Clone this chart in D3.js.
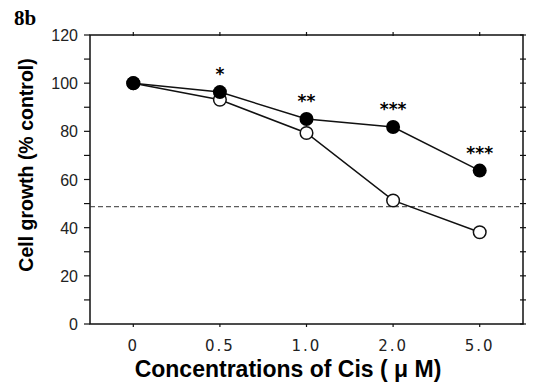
<!DOCTYPE html>
<html>
<head>
<meta charset="utf-8">
<script src="https://cdn.jsdelivr.net/npm/d3@7"></script>
<style>
  body { margin: 0; background: #fff; }
  svg { display: block; }
</style>
</head>
<body>
<div class="chart"></div>
<script>
// data
const concentrations = ['0', '0.5', '1.0', '2.0', '5.0'];
const filledValues = [100, 96.3, 85.1, 81.8, 63.7];
const openValues = [100, 93.1, 79.3, 51.3, 38.1];
const stars = ['', '*', '**', '***', '***'];
const yTicks = [0, 20, 40, 60, 80, 100, 120];
const refLine = 48.7;

const width = 534;
const height = 386;
const margin = { top: 35, right: 11, bottom: 62, left: 90 };

const svg = d3.select('.chart')
    .append('svg')
    .attr('width', width)
    .attr('height', height);

const x = d3.scalePoint()
    .domain(concentrations)
    .range([margin.left, width - margin.right])
    .padding(0.5);

const y = d3.scaleLinear()
    .domain([0, 120])
    .range([height - margin.bottom, margin.top]);

const x0 = margin.left, x1 = width - margin.right;
const y0 = y(0), y1 = y(120);

// frame
svg.append('rect')
    .attr('x', x0).attr('y', y1)
    .attr('width', x1 - x0).attr('height', y0 - y1)
    .style('fill', 'none')
    .style('stroke', '#111')
    .style('stroke-width', 1.5);

// left / right ticks every 10
const minor = d3.range(0, 121, 10);
svg.selectAll('.ltick')
    .data(minor)
    .enter().append('line')
    .attr('x1', x0 - 6).attr('x2', x0)
    .attr('y1', d => y(d)).attr('y2', d => y(d))
    .style('stroke', '#111').style('stroke-width', 1.2);

svg.selectAll('.rtick')
    .data(minor)
    .enter().append('line')
    .attr('x1', x1 - 3).attr('x2', x1 + 3)
    .attr('y1', d => y(d)).attr('y2', d => y(d))
    .style('stroke', '#111').style('stroke-width', 1.2);

svg.selectAll('.ylab')
    .data(yTicks)
    .enter().append('text')
    .attr('x', x0 - 12)
    .attr('y', d => y(d) + 6)
    .attr('text-anchor', 'end')
    .style('font-family', '"Liberation Sans Narrow", "Liberation Sans", Arial, sans-serif')
    .style('font-size', '16px')
    .style('fill', '#222')
    .text(d => d);

// top & bottom ticks at categories
svg.selectAll('.ttick')
    .data(concentrations)
    .enter().append('line')
    .attr('x1', d => x(d)).attr('x2', d => x(d))
    .attr('y1', y1 - 3).attr('y2', y1 + 1)
    .style('stroke', '#111').style('stroke-width', 1.2);

svg.selectAll('.btick')
    .data(concentrations)
    .enter().append('line')
    .attr('x1', d => x(d)).attr('x2', d => x(d))
    .attr('y1', y0).attr('y2', y0 + 3)
    .style('stroke', '#111').style('stroke-width', 1.2);

svg.selectAll('.xlab')
    .data(concentrations)
    .enter().append('text')
    .attr('x', d => x(d))
    .attr('y', y0 + 27)
    .attr('text-anchor', 'middle')
    .style('font-family', '"DejaVu Sans", sans-serif')
    .style('font-size', '15px')
    .style('letter-spacing', '2px')
    .style('fill', '#222')
    .text(d => d);

// dashed reference line
svg.append('line')
    .attr('x1', x0).attr('x2', x1)
    .attr('y1', y(refLine)).attr('y2', y(refLine))
    .style('stroke', '#333')
    .style('stroke-width', 1)
    .style('stroke-dasharray', '5,3');

const line = d3.line()
    .x((d, i) => x(concentrations[i]))
    .y(d => y(d));

svg.append('path')
    .datum(openValues)
    .attr('d', line)
    .style('fill', 'none').style('stroke', '#111').style('stroke-width', 1.5);

svg.append('path')
    .datum(filledValues)
    .attr('d', line)
    .style('fill', 'none').style('stroke', '#111').style('stroke-width', 1.5);

svg.selectAll('.open')
    .data(openValues)
    .enter().append('circle')
    .attr('class', 'open')
    .attr('r', 6.3)
    .attr('cx', (d, i) => x(concentrations[i]))
    .attr('cy', d => y(d))
    .style('fill', '#fff')
    .style('stroke', '#111')
    .style('stroke-width', 1.5);

svg.selectAll('.filled')
    .data(filledValues)
    .enter().append('circle')
    .attr('class', 'filled')
    .attr('r', 7)
    .attr('cx', (d, i) => x(concentrations[i]))
    .attr('cy', d => y(d))
    .style('fill', '#000');

// significance stars
svg.selectAll('.star')
    .data(stars)
    .enter().append('text')
    .attr('x', (d, i) => x(concentrations[i]))
    .attr('y', (d, i) => y(filledValues[i]) - 12)
    .attr('text-anchor', 'middle')
    .style('font-family', '"DejaVu Sans", sans-serif')
    .style('font-size', '17px')
    .style('font-weight', 'bold')
    .text(d => d);

// titles
svg.append('text')
    .attr('x', 14).attr('y', 25)
    .style('font-family', '"Liberation Serif", "Times New Roman", serif')
    .style('font-size', '21px')
    .style('font-weight', 'bold')
    .text('8b');

svg.append('text')
    .attr('transform', 'translate(33,165) rotate(-90)')
    .attr('text-anchor', 'middle')
    .style('font-family', '"Liberation Sans", Arial, sans-serif')
    .style('font-size', '19.5px')
    .style('font-weight', 'bold')
    .text('Cell growth (% control)');

svg.append('text')
    .attr('x', 288).attr('y', 377)
    .attr('text-anchor', 'middle')
    .style('font-family', '"Liberation Sans", Arial, sans-serif')
    .style('font-size', '23px')
    .style('font-weight', 'bold')
    .text('Concentrations of Cis ( \u03bc M)');
</script>
</body>
</html>
